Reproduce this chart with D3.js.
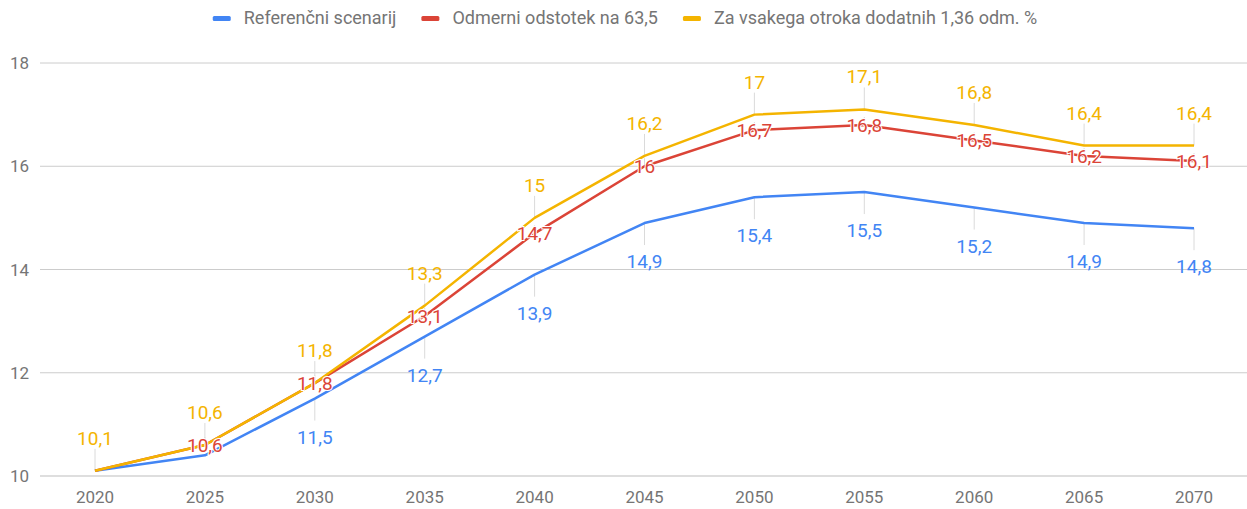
<!DOCTYPE html>
<html><head><meta charset="utf-8">
<script src="https://cdn.jsdelivr.net/npm/d3@7/dist/d3.min.js"></script>
<style>body{margin:0;background:#fff;font-family:Roboto,sans-serif}</style>
</head><body><svg id="c" width="1247" height="509"></svg>
<script>
const years = [2020,2025,2030,2035,2040,2045,2050,2055,2060,2065,2070];
const seriesNames = ["Referenčni scenarij","Odmerni odstotek na 63,5","Za vsakega otroka dodatnih 1,36 odm. %"];
const blueVals = [10.1,10.4,11.5,12.7,13.9,14.9,15.4,15.5,15.2,14.9,14.8];
const redVals = [10.1,10.6,11.8,13.1,14.7,16,16.7,16.8,16.5,16.2,16.1];
const yellowVals = [10.1,10.6,11.8,13.3,15,16.2,17,17.1,16.8,16.4,16.4];
const blueShown = [false,false,true,true,true,true,true,true,true,true,true];
const redShown = [false,true,true,true,true,true,true,true,true,true,true];
const yellowShown = [true,true,true,true,true,true,true,true,true,true,true];
const yTicks = [10,12,14,16,18];
const colors = ["#4285f4","#db4437","#f4b400"];

const svg = d3.select("#c");
const x = d3.scalePoint().domain(years).range([95,1194]);
const y = d3.scaleLinear().domain([10,18]).range([476,63]);

// gridlines
svg.append("g").selectAll("line").data(yTicks).join("line")
  .attr("x1",40).attr("x2",1247).attr("y1",d=>y(d)).attr("y2",d=>y(d))
  .attr("stroke",d=>d===10?"#bdbdbd":"#cccccc").attr("stroke-width",1);
svg.append("g").selectAll("text").data(yTicks).join("text")
  .attr("x",29).attr("y",d=>y(d)+6).attr("text-anchor","end")
  .attr("fill","#757575").style("font-size","17px").text(d=>d);
svg.append("g").selectAll("text").data(years).join("text")
  .attr("x",d=>x(d)).attr("y",503).attr("text-anchor","middle")
  .attr("fill","#757575").style("font-size","17px").text(d=>d);

const fmt = v => String(v).replace(".",",");
const series = [
  {vals:blueVals, shown:blueShown, c:colors[0], pos:"below"},
  {vals:redVals, shown:redShown, c:colors[1], pos:"center"},
  {vals:yellowVals, shown:yellowShown, c:colors[2], pos:"above"}
];
const line = d3.line().x((d,i)=>x(years[i])).y(d=>y(d));

// stems
series.forEach(s=>{
  svg.append("g").selectAll("line").data(s.vals.map((v,i)=>({v,i})).filter(d=>s.shown[d.i])).join("line")
    .attr("x1",d=>x(years[d.i])).attr("x2",d=>x(years[d.i]))
    .attr("y1",d=>y(d.v))
    .attr("y2",d=>s.pos==="above"?y(d.v)-22:s.pos==="below"?y(d.v)+22:y(d.v)-8)
    .attr("stroke","#dadada").attr("stroke-width",1);
});
series.forEach(s=>{
  svg.append("path").datum(s.vals).attr("d",line).attr("fill","none")
    .attr("stroke",s.c).attr("stroke-width",2.5).attr("stroke-linejoin","round");
});
series.forEach(s=>{
  svg.append("g").selectAll("text").data(s.vals.map((v,i)=>({v,i})).filter(d=>s.shown[d.i])).join("text")
    .attr("x",d=>x(years[d.i]))
    .attr("y",d=>s.pos==="above"?y(d.v)-26:s.pos==="below"?y(d.v)+45:y(d.v)+7)
    .attr("text-anchor","middle").attr("fill",s.c)
    .style("font-size","19px")
    .attr("stroke",s.pos==="center"?"#fff":"none").attr("stroke-width",s.pos==="center"?2:0)
    .attr("paint-order","stroke")
    .text(d=>fmt(d.v));
});

// legend
const lg = svg.append("g");
const items = [];
seriesNames.forEach((n,i)=>{
  const g = lg.append("g");
  g.append("rect").attr("x",0).attr("y",16).attr("width",18).attr("height",5).attr("rx",1.5).attr("fill",colors[i]);
  const t = g.append("text").attr("x",31).attr("y",24).attr("fill","#757575").style("font-size","18px").text(n);
  const w = 31 + t.node().getComputedTextLength();
  items.push({g,w});
});
const gap = 25;
const total = d3.sum(items,d=>d.w)+gap*(items.length-1);
let cx = 625 - total/2;
items.forEach(it=>{ it.g.attr("transform",`translate(${cx},0)`); cx += it.w+gap; });
</script></body></html>
